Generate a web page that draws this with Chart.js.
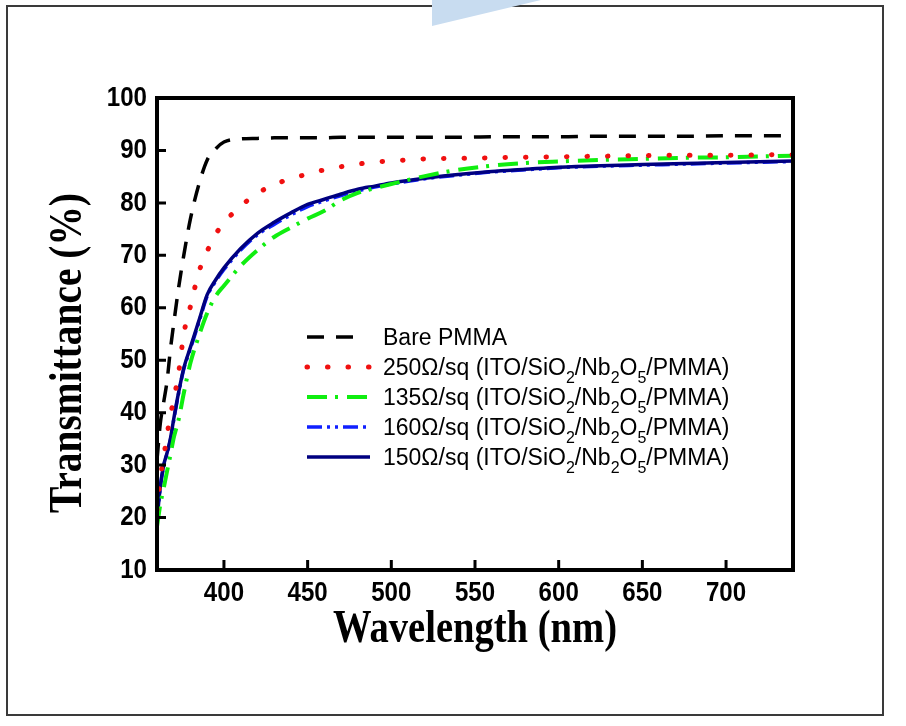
<!DOCTYPE html>
<html>
<head>
<meta charset="utf-8">
<script src="https://cdn.jsdelivr.net/npm/chart.js@4.4.0/dist/chart.umd.min.js"></script>
<style>
  html, body { margin: 0; padding: 0; background: #fff; }
  #wrap { width: 906px; height: 726px; position: relative; }
</style>
</head>
<body>
<div id="wrap"><canvas id="chart1"></canvas></div>
<script>
// wavelength (nm) shared by all curves
const wavelength = [360, 362, 364, 366, 368, 370, 373, 376, 380, 385, 390, 395, 400, 410, 420, 430, 440,
                    450, 460, 470, 480, 490, 500, 520, 540, 560, 580, 600, 625, 650, 675, 700, 740];

// transmittance (%)
const bare_pmma = [31, 38, 42, 46, 52, 57, 64, 70, 77, 83.5, 88.2, 90.3, 91.6, 92.2, 92.3, 92.4, 92.4,
                   92.4, 92.4, 92.5, 92.5, 92.5, 92.5, 92.5, 92.5, 92.6, 92.6, 92.6, 92.7, 92.7, 92.7, 92.8, 92.8];
const s250 = [21.5, 27.5, 31.5, 35.7, 39.5, 42.5, 47.8, 55, 60.3, 66.8, 70.8, 74, 76.2, 79.4, 81.8, 83.5, 84.6,
              85.5, 86.3, 86.9, 87.4, 87.8, 88.0, 88.4, 88.5, 88.6, 88.7, 88.8, 88.9, 89.0, 89.1, 89.1, 89.2];
const s135 = [18.3, 22.5, 25.6, 28.8, 31.9, 35.2, 38.8, 43.7, 49.5, 54.6, 59, 62.2, 64.2, 68, 71, 73.5, 75.3,
              77, 78.5, 80.5, 81.9, 82.8, 83.6, 85.1, 86.3, 87.1, 87.6, 87.9, 88.2, 88.4, 88.6, 88.7, 89.0];
const s160 = [19.3, 25.8, 29.8, 32.2, 34.8, 38.6, 43.8, 48.3, 52.2, 57.2, 62.2, 65, 67.3, 71, 73.9, 75.9, 77.7,
              79.3, 80.4, 81.4, 82.3, 83.0, 83.6, 84.6, 85.3, 85.9, 86.3, 86.7, 87.0, 87.2, 87.4, 87.6, 87.9];
const s150 = [19.5, 26, 30, 32.3, 35, 38.8, 44, 48.5, 52.5, 57.5, 62.5, 65.3, 67.6, 71.3, 74.2, 76.3, 78.1,
              79.7, 80.7, 81.7, 82.6, 83.2, 83.8, 84.7, 85.4, 86.0, 86.4, 86.8, 87.1, 87.3, 87.5, 87.7, 88.0];

const series_labels = ['Bare PMMA',
                       '250Ω/sq (ITO/SiO_2/Nb_2O_5/PMMA)',
                       '135Ω/sq (ITO/SiO_2/Nb_2O_5/PMMA)',
                       '160Ω/sq (ITO/SiO_2/Nb_2O_5/PMMA)',
                       '150Ω/sq (ITO/SiO_2/Nb_2O_5/PMMA)'];

const x_title = 'Wavelength (nm)';
const y_title = 'Transmittance (%)';

const x_min = 360, x_max = 740;
const y_min = 10, y_max = 100;

function pts(values){
    return values.map((v, i) => ({x: wavelength[i], y: v}));
}

const legend_font = '23px "Liberation Sans", Arial, sans-serif';
const sub_font = '16px "Liberation Sans", Arial, sans-serif';
const title_font = 'bold 46px "Liberation Serif", "Times New Roman", serif';
const tick_font = 'bold 28px "Liberation Sans", Arial, sans-serif';
const tick_squeeze = 0.86;

function draw_rich(ctx, text, x, y){
    const parts = text.split(/_(\d)/);
    for (let i = 0; i < parts.length; i++) {
        if (i % 2) {
            ctx.font = sub_font;
            ctx.fillText(parts[i], x, y + 8);
        } else {
            ctx.font = legend_font;
            ctx.fillText(parts[i], x, y);
        }
        x += ctx.measureText(parts[i]).width;
    }
}

// squeezed serif title, fitted to a given length
function draw_title(ctx, text, cx, cy, angle, len){
    ctx.save();
    ctx.translate(cx, cy);
    ctx.rotate(angle);
    ctx.font = title_font;
    const w = ctx.measureText(text).width;
    ctx.scale(len / w, 1);
    ctx.textAlign = 'center';
    ctx.textBaseline = 'middle';
    ctx.fillStyle = '#000';
    ctx.fillText(text, 0, 0);
    ctx.restore();
}

// narrow bold tick label
function draw_tick_label(ctx, text, x, y, align){
    ctx.save();
    ctx.translate(x, y);
    ctx.scale(tick_squeeze, 1);
    ctx.font = tick_font;
    ctx.textAlign = align;
    ctx.textBaseline = 'middle';
    ctx.fillStyle = '#000';
    ctx.fillText(text, 0, 0);
    ctx.restore();
}

const page_decor = {
    id: 'page_decor',
    beforeDraw(chart) {
        const ctx = chart.ctx;
        ctx.save();
        ctx.fillStyle = '#fff';
        ctx.fillRect(0, 0, chart.width, chart.height);
        ctx.strokeStyle = '#3a3a3a';
        ctx.lineWidth = 2;
        ctx.strokeRect(7, 6, 876, 709);
        ctx.fillStyle = '#c8dcf0';
        ctx.beginPath();
        ctx.moveTo(432, 0); ctx.lineTo(541, 0); ctx.lineTo(432, 26);
        ctx.closePath();
        ctx.fill();
        ctx.restore();
    }
};

const frame_ticks = {
    id: 'frame_ticks',
    afterDatasetsDraw(chart) {
        const {ctx, chartArea: a, scales} = chart;
        ctx.save();
        ctx.strokeStyle = '#000';
        ctx.lineWidth = 4;
        ctx.strokeRect(a.left, a.top, a.right - a.left, a.bottom - a.top);
        ctx.lineWidth = 3;
        ctx.beginPath();
        scales.y.ticks.forEach(t => {
            if (t.value <= y_min || t.value >= y_max) return;
            const py = scales.y.getPixelForValue(t.value);
            ctx.moveTo(a.left, py); ctx.lineTo(a.left + 9, py);
        });
        scales.x.ticks.forEach(t => {
            const px = scales.x.getPixelForValue(t.value);
            ctx.moveTo(px, a.bottom); ctx.lineTo(px, a.bottom - 10);
        });
        ctx.stroke();
        ctx.restore();
        scales.y.ticks.forEach(t => {
            draw_tick_label(ctx, String(t.value), a.left - 10, scales.y.getPixelForValue(t.value), 'right');
        });
        scales.x.ticks.forEach(t => {
            draw_tick_label(ctx, String(t.value), scales.x.getPixelForValue(t.value), a.bottom + 23, 'center');
        });
    }
};

const legend_box = {
    id: 'legend_box',
    afterDraw(chart) {
        const ctx = chart.ctx;
        const a = chart.chartArea;
        ctx.save();
        chart.data.datasets.forEach((ds, i) => {
            const y = 337 + i * 30;
            ctx.strokeStyle = ds.borderColor;
            ctx.lineWidth = ds.borderWidth;
            ctx.lineCap = ds.borderCapStyle || 'butt';
            ctx.setLineDash(ds.borderDash || []);
            ctx.beginPath();
            ctx.moveTo(307, y); ctx.lineTo(i == 0 ? 358 : 370, y);
            ctx.stroke();
            ctx.setLineDash([]);
            ctx.fillStyle = '#000';
            ctx.textBaseline = 'alphabetic';
            ctx.textAlign = 'left';
            draw_rich(ctx, ds.label, 383, y + 8);
        });
        ctx.restore();
        draw_title(ctx, y_title, 69, 353, -Math.PI / 2, 320);
        draw_title(ctx, x_title, (a.left + a.right) / 2, 630, 0, 284);
    }
};

const chart1_cfg = {
    type: 'line',
    data: {
        datasets: [
            {label: series_labels[0], data: pts(bare_pmma), borderColor: '#000000', borderWidth: 3.5,
             borderDash: [17, 12], order: 0},
            {label: series_labels[1], data: pts(s250), borderColor: '#f01010', borderWidth: 5,
             borderDash: [0.5, 20], borderCapStyle: 'round', order: 1},
            {label: series_labels[2], data: pts(s135), borderColor: '#10ee10', borderWidth: 4,
             borderDash: [20, 8, 3, 9], order: 2},
            {label: series_labels[3], data: pts(s160), borderColor: '#1020ff', borderWidth: 3.5,
             borderDash: [15, 5, 3, 5, 3, 5], order: 4},
            {label: series_labels[4], data: pts(s150), borderColor: '#000080', borderWidth: 3.5,
             order: 3}
        ]
    },
    options: {
        responsive: true,
        maintainAspectRatio: false,
        animation: false,
        layout: {padding: {top: 98, right: 113, bottom: 0, left: 0}},
        elements: {
            point: {radius: 0},
            line: {cubicInterpolationMode: 'monotone', fill: false}
        },
        plugins: {
            legend: {display: false},
            tooltip: {enabled: false}
        },
        scales: {
            x: {
                type: 'linear',
                min: x_min,
                max: x_max,
                grid: {display: false, drawTicks: false},
                border: {display: false},
                ticks: {stepSize: 50, includeBounds: false, display: false},
                afterFit(s) { s.height = 156; }
            },
            y: {
                min: y_min,
                max: y_max,
                grid: {display: false, drawTicks: false},
                border: {display: false},
                ticks: {stepSize: 10, display: false},
                afterFit(s) { s.width = 157; }
            }
        }
    },
    plugins: [page_decor, frame_ticks, legend_box]
};

const chart1_ctx = document.getElementById('chart1').getContext('2d');
let chart1 = new Chart(chart1_ctx, chart1_cfg);
</script>
</body>
</html>
